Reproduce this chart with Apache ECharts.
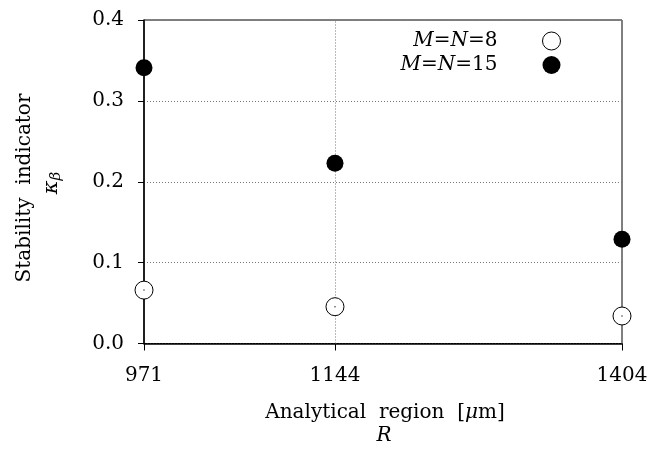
<!DOCTYPE html>
<html><head><meta charset="utf-8">
<script src="https://cdn.jsdelivr.net/npm/echarts@6/dist/echarts.min.js"></script>
<style>html,body{margin:0;padding:0;background:#fff}#c{width:652px;height:450px}</style>
</head><body><div id="c"></div>
<script>
const xValues = [971, 1144, 1404];
const seriesNames = ['M=N=8', 'M=N=15'];
const valuesMN8 = [0.066, 0.0455, 0.034];
const valuesMN15 = [0.341, 0.223, 0.129];
const yTicks = [0.0, 0.1, 0.2, 0.3, 0.4];

const FONT = 'DejaVu Serif';
const FS = 20;
const chart = echarts.init(document.getElementById('c'), null, {renderer: 'canvas'});

function legendRich(name) {
  // italic M and N, upright "=" and digits
  const parts = name.split('=');
  return '{i|' + parts[0] + '}{n|=}{i|' + parts[1] + '}{n|=' + parts[2] + '}';
}

chart.setOption({
  animation: false,
  backgroundColor: '#fff',
  grid: {left: 144, right: 30, top: 20, bottom: 106.5, show: true, borderColor: '#000', borderWidth: 1},
  legend: {
    orient: 'vertical', right: 86, top: 26, align: 'right', itemGap: 4,
    itemWidth: 18, itemHeight: 18,
    formatter: legendRich,
    textStyle: {
      fontFamily: FONT, fontSize: FS, color: '#000', padding: [0, 40, 0, 0],
      rich: {
        i: {fontFamily: FONT, fontSize: FS, fontStyle: 'italic', color: '#000', fontWeight: 'normal'},
        n: {fontFamily: FONT, fontSize: FS, color: '#000'}
      }
    },
    data: [
      {name: seriesNames[0], icon: 'circle', itemStyle: {color: '#fff', borderColor: '#000', borderWidth: 1}},
      {name: seriesNames[1], icon: 'circle', itemStyle: {color: '#000', borderColor: '#000', borderWidth: 0}}
    ]
  },
  xAxis: {
    type: 'value', min: xValues[0], max: xValues[xValues.length - 1],
    axisLine: {show: true, lineStyle: {color: '#000', width: 1.5}},
    axisTick: {show: true, customValues: xValues, length: 7, lineStyle: {color: '#000'}},
    axisLabel: {customValues: xValues, fontFamily: FONT, fontSize: FS, color: '#000', margin: 22,
      formatter: v => String(v), showMinLabel: true, showMaxLabel: true},
    splitLine: {show: false}
  },
  yAxis: {
    type: 'value', min: yTicks[0], max: yTicks[yTicks.length - 1], interval: 0.1,
    axisLine: {show: true, lineStyle: {color: '#000', width: 1.5}},
    axisTick: {show: true, length: 6, lineStyle: {color: '#000'}},
    axisLabel: {fontFamily: FONT, fontSize: FS, color: '#000', margin: 20, formatter: v => v.toFixed(1)},
    splitLine: {show: true, lineStyle: {color: '#777', type: [1, 2], width: 1}}
  },
  series: [
    {
      name: seriesNames[0], type: 'scatter', symbol: 'circle', symbolSize: 18,
      itemStyle: {color: '#fff', borderColor: '#000', borderWidth: 1, opacity: 1},
      data: xValues.map((x, i) => [x, valuesMN8[i]]), z: 5,
      markLine: {
        silent: true, symbol: 'none', label: {show: false},
        lineStyle: {color: '#777', type: [1, 2], width: 1},
        emphasis: {disabled: true},
        data: [{xAxis: xValues[1]}]
      }
    },
    {
      name: seriesNames[0] + ' dot', type: 'scatter', symbol: 'circle', symbolSize: 1.5,
      itemStyle: {color: '#000'}, data: xValues.map((x, i) => [x, valuesMN8[i]]), z: 6
    },
    {
      name: seriesNames[1], type: 'scatter', symbol: 'circle', symbolSize: 17,
      itemStyle: {color: '#000', opacity: 1},
      data: xValues.map((x, i) => [x, valuesMN15[i]]), z: 5
    }
  ],
  graphic: [
    {type: 'text', x: 25, y: 188, rotation: Math.PI / 2, style: {text: 'Stability  indicator', font: FS + 'px "DejaVu Serif"', fill: '#000', align: 'center', verticalAlign: 'middle'}},
    {type: 'text', x: 52, y: 183, rotation: Math.PI / 2, style: {
      text: '{k|κ}{b|β}', align: 'center', verticalAlign: 'middle',
      rich: {k: {fontFamily: FONT, fontSize: 21, fontStyle: 'italic', fill: '#000'}, b: {fontFamily: FONT, fontSize: 15, fontStyle: 'italic', fill: '#000', verticalAlign: 'bottom', padding: [8, 0, 0, 0]}}
    }},
    {type: 'text', x: 385, y: 413, style: {
      text: '{n|Analytical  region  [}{i|μ}{n|m]}', align: 'center', verticalAlign: 'middle',
      rich: {n: {fontFamily: FONT, fontSize: FS, fill: '#000'}, i: {fontFamily: FONT, fontSize: FS, fontStyle: 'italic', fill: '#000'}}
    }},
    {type: 'text', x: 384, y: 436, style: {text: 'R', font: 'italic ' + FS + 'px "DejaVu Serif"', fill: '#000', align: 'center', verticalAlign: 'middle'}}
  ]
});
</script></body></html>
